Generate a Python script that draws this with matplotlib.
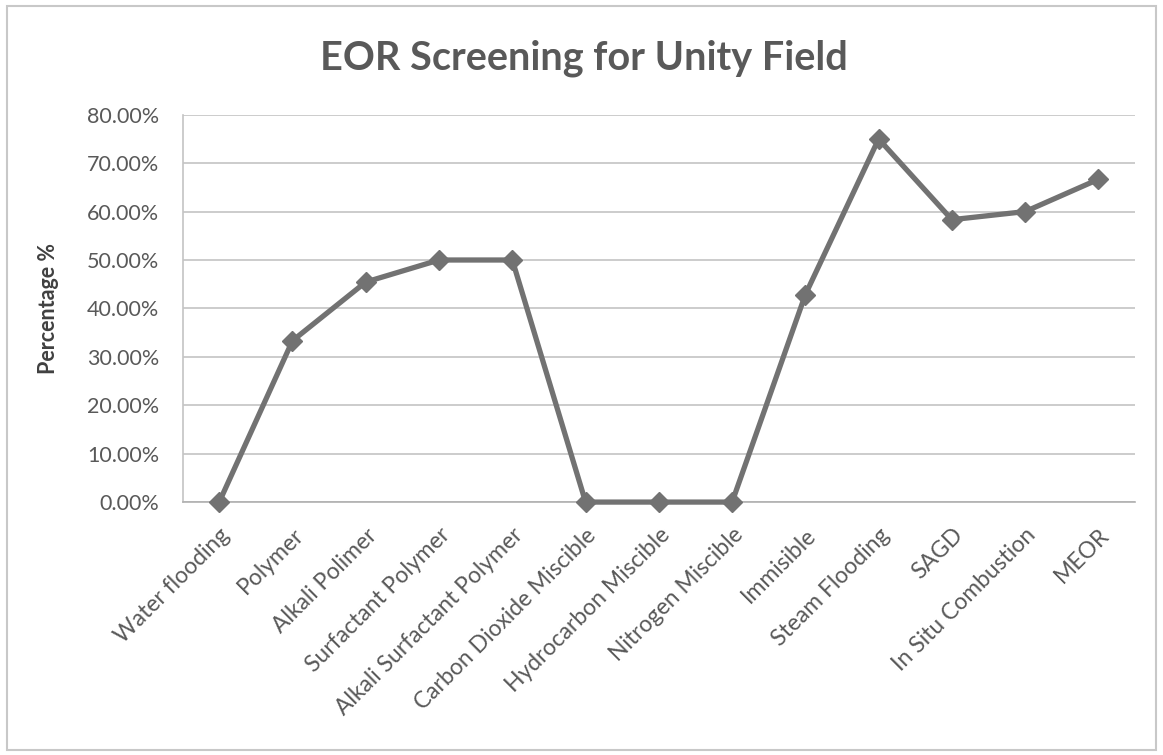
import matplotlib.pyplot as plt
from matplotlib.ticker import FuncFormatter
from matplotlib.patches import Rectangle

methods = ['Water flooding', 'Polymer', 'Alkali Polimer', 'Surfactant Polymer',
           'Alkali Surfactant Polymer', 'Carbon Dioxide Miscible',
           'Hydrocarbon Miscible', 'Nitrogen Miscible', 'Immisible',
           'Steam Flooding', 'SAGD', 'In Situ Combustion', 'MEOR']
percent = [0.0, 33.33, 45.45, 50.0, 50.0, 0.0, 0.0, 0.0, 42.86, 75.0, 58.33, 60.0, 66.67]

plt.rcParams['font.family'] = ['Lato', 'DejaVu Sans']
text_grey = '#595959'

fig = plt.figure(figsize=(11.63, 7.55), dpi=100, facecolor='white')
ax = fig.add_axes([0.157, 0.335, 0.819, 0.513])

# outer chart border
fig.patches.append(Rectangle((0.006, 0.007), 0.988, 0.985, transform=fig.transFigure,
                             fill=False, edgecolor='#c8c8c8', linewidth=1.5))

x = range(len(methods))
ax.plot(x, percent, color='#727272', linewidth=3.8, marker='D', markersize=10,
        markerfacecolor='#727272', markeredgecolor='#727272', zorder=3, clip_on=False)

ax.set_xlim(-0.5, len(methods) - 0.5)
ax.set_ylim(0, 80)
ax.set_yticks(range(0, 81, 10))
ax.yaxis.set_major_formatter(FuncFormatter(lambda v, p: f'{v:.2f}%'))
ax.grid(axis='y', color='#c4c4c4', linewidth=1.2)
ax.set_axisbelow(True)

for s in ['top', 'right']:
    ax.spines[s].set_visible(False)
ax.spines['left'].set_color('#c4c4c4')
ax.spines['bottom'].set_color('#b0b0b0')
ax.spines['left'].set_linewidth(1.2)
ax.spines['bottom'].set_linewidth(1.2)

ax.set_xticks(list(x))
ax.set_xticklabels(methods, rotation=45, ha='right', rotation_mode='anchor',
                   fontsize=16.5, color=text_grey)
ax.tick_params(axis='x', length=0, pad=16)
ax.tick_params(axis='y', length=0, pad=17, labelsize=15.5, labelcolor=text_grey)

ax.set_ylabel('Percentage %', fontsize=15.5, fontweight='bold', color='#404040', labelpad=20)
fig.text(0.502, 0.923, 'EOR Screening for Unity Field', ha='center', va='center',
         fontsize=28.5, fontweight='bold', color=text_grey)

fig.savefig('out.png', dpi=100, facecolor='white')
